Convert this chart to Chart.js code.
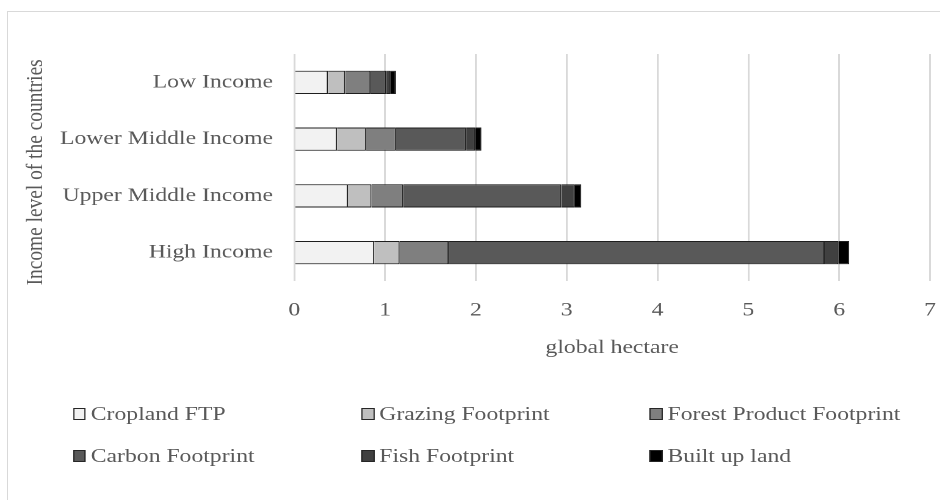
<!DOCTYPE html>
<html>
<head>
<meta charset="utf-8">
<script src="https://cdn.jsdelivr.net/npm/chart.js@4/dist/chart.umd.min.js"></script>
<style>
  html, body { margin: 0; padding: 0; background: #fff; overflow: hidden; }
  #frame { position: absolute; left: 7px; top: 11px; width: 1000px; height: 600px;
           border: 1px solid #d9d9d9; box-sizing: border-box; }
  /* chart drawn at 770px wide and widened to the 940px page */
  #stage { position: absolute; left: 0; top: 0; width: 770px; height: 500px;
           transform: scaleX(1.2208); transform-origin: 0 0; }
  #chart { position: absolute; left: 0; top: 0; }
  #legend { position: absolute; left: 0; top: 0; width: 770px; height: 500px;
            font-family: "Liberation Serif", "Times New Roman", serif; font-size: 19.4px; color: #595959; }
  .item { position: absolute; display: flex; align-items: center; white-space: nowrap; height: 24px; }
  .box { width: 10.4px; height: 12px; box-sizing: border-box; border: 1px solid #262626; margin-right: 4px; }
</style>
</head>
<body>
<div id="frame"></div>
<div id="stage">
  <canvas id="chart" width="770" height="500" style="width:770px;height:500px"></canvas>
  <div id="legend"></div>
</div>
<script>
// Ecological footprint per person by income group (global hectares)
const categories = ['Low Income', 'Lower Middle Income', 'Upper Middle Income', 'High Income'];
const seriesNames = ['Cropland FTP', 'Grazing Footprint', 'Forest Product Footprint',
                     'Carbon Footprint', 'Fish Footprint', 'Built up land'];
const seriesColors = ['#f2f2f2', '#bfbfbf', '#7f7f7f', '#595959', '#404040', '#000000'];

const cropland = [0.37, 0.47, 0.59, 0.88];
const grazing  = [0.19, 0.32, 0.26, 0.28];
const forest   = [0.28, 0.33, 0.35, 0.54];
const carbon   = [0.17, 0.77, 1.74, 4.14];
const fish     = [0.05, 0.10, 0.15, 0.15];
const builtUp  = [0.06, 0.07, 0.07, 0.12];

const xMin = 0, xMax = 7, xStep = 1;
const xTitle = 'global hectare';
const yTitle = 'Income level of the countries';

const seriesValues = [cropland, grazing, forest, carbon, fish, builtUp];

const textColor = '#595959';
const font = { family: '"Liberation Serif", "Times New Roman", serif', size: 19.4 };

const datasets = seriesNames.map((name, i) => ({
  label: name,
  data: seriesValues[i],
  backgroundColor: seriesColors[i],
  borderColor: '#1e1e1e',
  borderWidth: 1,
  barPercentage: 0.41,
  categoryPercentage: 1
}));

const chart = new Chart(document.getElementById('chart'), {
  type: 'bar',
  data: { labels: categories, datasets },
  options: {
    indexAxis: 'y',
    responsive: false,
    animation: false,
    devicePixelRatio: 2,
    layout: { padding: { left: 0, top: 54, right: 8.2, bottom: 0 } },
    plugins: { legend: { display: false }, tooltip: { enabled: false } },
    scales: {
      x: {
        stacked: true, min: xMin, max: xMax,
        ticks: { stepSize: xStep, color: textColor, font, padding: 18 },
        grid: { color: '#d9d9d9', lineWidth: 1.5, drawTicks: false },
        border: { display: false },
        title: { display: true, text: xTitle, color: textColor, font, padding: { top: 0, bottom: 140.4 } },
        afterFit(scale) {
          scale.height = 219;
          // only half of the last label needs room at the right edge
          scale.paddingRight = 5;
          scale.paddingLeft = 5;
        }
      },
      y: {
        stacked: true,
        ticks: { color: textColor, font, padding: 17.5 },
        grid: { display: false, drawTicks: false },
        border: { display: false },
        // two trailing spaces nudge the rotated title slightly downward
        title: { display: true, text: yTitle + '  ', color: textColor, font, padding: { top: 17.9, bottom: 0 } },
        afterFit(scale) { scale.width = 241.1; }
      }
    }
  }
});

// legend: three columns, two rows, built from the chart's datasets
const legendEl = document.getElementById('legend');
const colX = [60, 296.3, 532.4];
const rowY = [414, 456];
chart.data.datasets.forEach((ds, i) => {
  const item = document.createElement('div');
  item.className = 'item';
  item.style.left = colX[i % 3] + 'px';
  item.style.top = (rowY[Math.floor(i / 3)] - 12) + 'px';
  const box = document.createElement('span');
  box.className = 'box';
  box.style.background = ds.backgroundColor;
  const label = document.createElement('span');
  label.textContent = ds.label;
  item.appendChild(box);
  item.appendChild(label);
  legendEl.appendChild(item);
});
</script>
</body>
</html>
